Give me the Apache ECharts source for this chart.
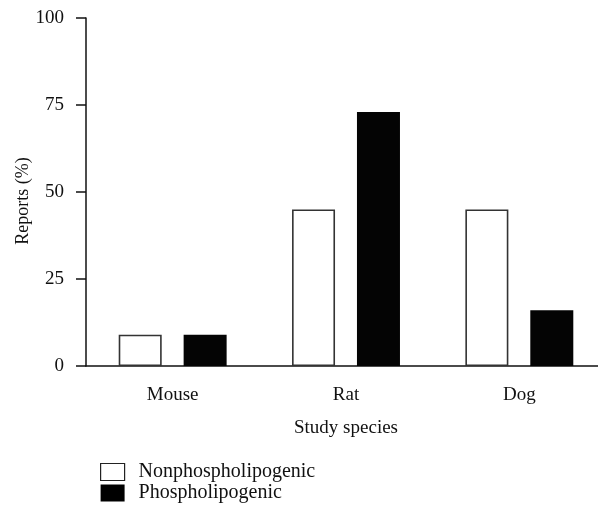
<!DOCTYPE html>
<html>
<head>
<meta charset="utf-8">
<script src="https://cdn.jsdelivr.net/npm/echarts@6/dist/echarts.min.js"></script>
<style>html,body{margin:0;padding:0;background:#fff;overflow:hidden}#wrap{width:598px;height:510px;overflow:hidden;position:relative}#c{position:absolute;left:0;top:0;width:606px;height:510px}</style>
</head>
<body>
<div id="wrap"><div id="c"></div></div>
<script>
const categories = ['Mouse', 'Rat', 'Dog'];
const nonPhospholipogenic = [9, 45, 45];
const phospholipogenic = [9, 73, 16];
const yTicks = [0, 25, 50, 75, 100];

const FONT = '"Liberation Serif", "DejaVu Serif", serif';
const chart = echarts.init(document.getElementById('c'));
chart.setOption({
  animation: false,
  backgroundColor: '#fff',
  textStyle: { fontFamily: FONT },
  grid: { left: 86, top: 18, bottom: 144, right: 0 },
  legend: {
    orient: 'vertical', left: 100, top: 462, padding: 0,
    itemWidth: 24, itemHeight: 17, itemGap: 1,
    textStyle: { fontFamily: FONT, fontSize: 20, lineHeight: 17, color: '#111', padding: [0, 0, 0, 9] },
    data: [
      { name: 'Nonphospholipogenic', icon: 'rect', itemStyle: { color: '#fff', borderColor: '#222', borderWidth: 1.2 } },
      { name: 'Phospholipogenic', icon: 'rect', itemStyle: { color: '#000' } }
    ]
  },
  xAxis: {
    type: 'category', data: categories,
    name: 'Study species', nameLocation: 'middle', nameGap: 53, nameMoveOverlap: false,
    nameTextStyle: { fontFamily: FONT, fontSize: 19, color: '#111' },
    axisLine: { lineStyle: { color: '#111', width: 1.5 } },
    axisTick: { alignWithLabel: true, length: 9, lineStyle: { color: '#222', width: 1.5 } },
    axisLabel: { margin: 20, fontFamily: FONT, fontSize: 19, color: '#111' }
  },
  yAxis: {
    type: 'value', min: yTicks[0], max: yTicks[yTicks.length - 1], interval: 25,
    name: 'Reports (%)', nameLocation: 'middle', nameGap: 54, nameMoveOverlap: false,
    nameTextStyle: { fontFamily: FONT, fontSize: 18, color: '#111', padding: [0, 18, 0, 0] },
    axisLine: { show: true, lineStyle: { color: '#111', width: 1.5 } },
    axisTick: { show: true, length: 10, lineStyle: { color: '#111', width: 1.5 } },
    splitLine: { show: false },
    axisLabel: { margin: 22, fontFamily: FONT, fontSize: 19, color: '#111' }
  },
  series: [
    {
      name: 'Nonphospholipogenic', type: 'bar', data: nonPhospholipogenic,
      barWidth: 43, barGap: '51%',
      itemStyle: { color: '#fff', borderColor: '#333', borderWidth: 1.6 }
    },
    {
      name: 'Phospholipogenic', type: 'bar', data: phospholipogenic,
      barWidth: 43,
      itemStyle: { color: '#040404' }
    }
  ]
});
</script>
</body>
</html>
